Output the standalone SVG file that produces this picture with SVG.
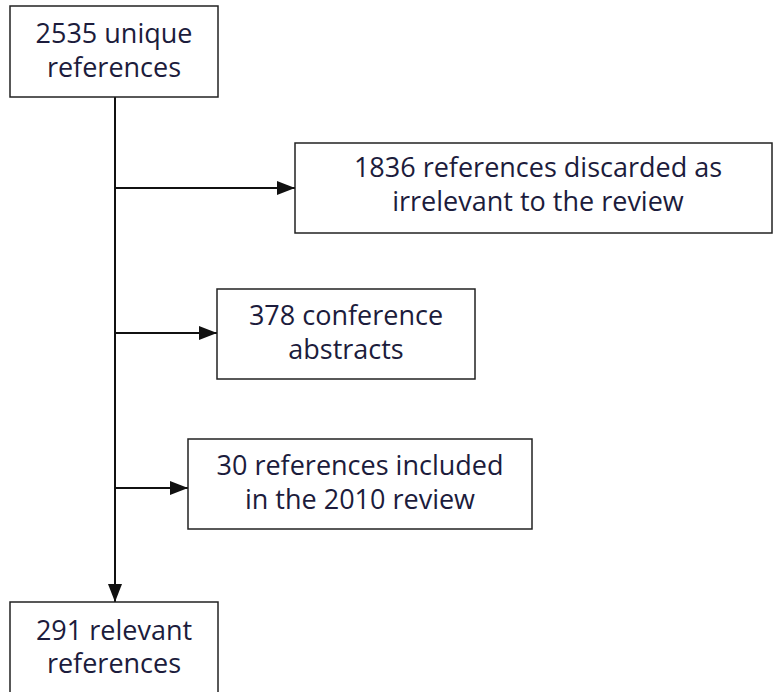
<svg xmlns="http://www.w3.org/2000/svg" width="773" height="692" viewBox="0 0 773 692">
<style>
.box{fill:#fff;stroke:#222;stroke-width:1.5}
.t{font-family:"Open Sans","Noto Sans",sans-serif;font-size:27px;fill:#1c1c3c;text-anchor:middle}
.c{stroke:#111;stroke-width:2;fill:none}
</style>
<defs>
<marker id="ah" markerWidth="18" markerHeight="14" refX="18" refY="7" orient="auto" markerUnits="userSpaceOnUse">
<path d="M0,0 L18,7 L0,14 Z" fill="#111"/>
</marker>
</defs>
<rect width="773" height="692" fill="#fff"/>
<g id="connectors">
<line class="c" x1="115" y1="97" x2="115" y2="602" marker-end="url(#ah)"/>
<line class="c" x1="115" y1="188" x2="295" y2="188" marker-end="url(#ah)"/>
<line class="c" x1="115" y1="333" x2="217" y2="333" marker-end="url(#ah)"/>
<line class="c" x1="115" y1="488" x2="188" y2="488" marker-end="url(#ah)"/>
</g>
<g id="n1">
<rect class="box" x="10" y="6" width="208" height="91"/>
<text class="t" x="114" y="43">2535 unique</text>
<text class="t" x="114" y="77">references</text>
</g>
<g id="n2">
<rect class="box" x="295" y="143" width="477" height="90"/>
<text class="t" x="538" y="177">1836 references discarded as</text>
<text class="t" x="538" y="211">irrelevant to the review</text>
</g>
<g id="n3">
<rect class="box" x="217" y="289" width="258" height="90"/>
<text class="t" x="346" y="325">378 conference</text>
<text class="t" x="346" y="359">abstracts</text>
</g>
<g id="n4">
<rect class="box" x="188" y="439" width="344" height="90"/>
<text class="t" x="360" y="475">30 references included</text>
<text class="t" x="360" y="509">in the 2010 review</text>
</g>
<g id="n5">
<rect class="box" x="10" y="602" width="208" height="100"/>
<text class="t" x="114" y="640">291 relevant</text>
<text class="t" x="114" y="673">references</text>
</g>
</svg>
